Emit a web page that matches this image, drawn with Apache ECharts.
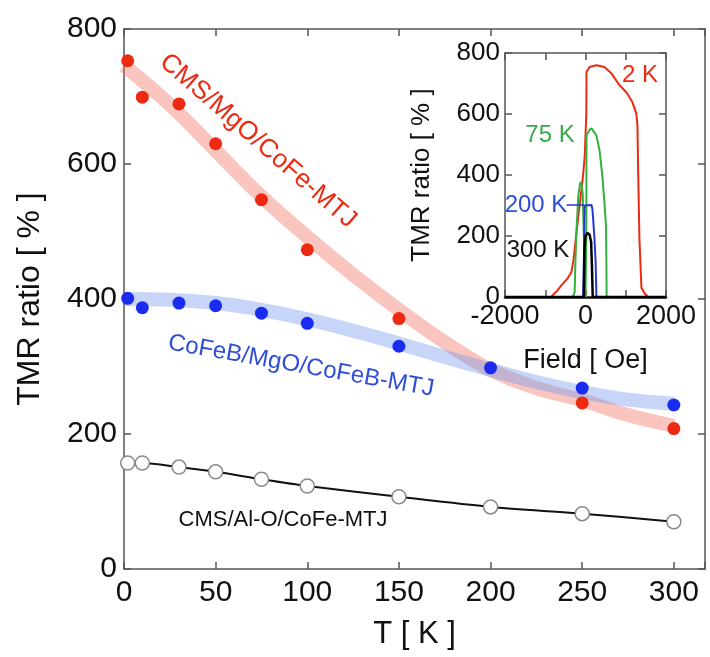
<!DOCTYPE html>
<html>
<head>
<meta charset="utf-8">
<script src="https://cdn.jsdelivr.net/npm/echarts@6/dist/echarts.min.js"></script>
<style>
  html, body { margin: 0; padding: 0; background: #fff; }
  #chart { width: 710px; height: 657px; }
</style>
</head>
<body>
<div id="chart"></div>
<script>
// Temperature dependence of the TMR ratio for three junction types
const tempAll = [2, 10, 30, 50, 75, 100, 150, 200, 250, 300];
const tempCmsMgo = [2, 10, 30, 50, 75, 100, 150, 250, 300];
const tmrCmsMgo = [753, 699, 689, 630, 547, 473, 371, 246, 208];
const tmrCofebMgo = [401, 387, 394, 390, 379, 364, 330, 298, 268, 243];
const tmrCmsAlo = [157, 157, 151, 144, 133, 123, 107, 92, 82, 70];

// Guide bands drawn behind the MgO data
const bandTemp = [0, 25, 50, 75, 100, 125, 150, 175, 200, 225, 250, 275, 300];
const bandCmsMgo = [746, 688, 620, 552, 492, 436, 384, 336, 295, 268, 250, 228, 212];
const bandCofebMgo = [400, 399, 394, 384, 370, 353, 334, 314, 295, 277, 262, 251, 245];

// Inset: TMR vs field loops at several temperatures
const field2K = [-2000, -850, -800, -720, -600, -450, -350, -300, -200, -120, -60, -20, 20, 25, 100, 270, 470, 640, 840, 1010, 1160, 1260, 1290, 1310, 1340, 1390, 1460, 1550, 2000];
const tmr2K = [0, 0, 8, 18, 38, 60, 82, 120, 240, 330, 400, 460, 600, 738, 754, 760, 754, 734, 695, 672, 640, 603, 564, 400, 190, 30, 13, 0, 0];
const field75K = [-2000, -320, -270, -250, -220, -180, -130, -100, -70, -40, -20, 0, 20, 25, 100, 150, 270, 350, 420, 470, 510, 520, 525, 2000];
const tmr75K = [0, 0, 15, 120, 230, 330, 377, 370, 340, 200, 60, 0, 200, 530, 548, 553, 530, 480, 395, 310, 230, 100, 0, 0];
const field200K = [-2000, -60, -40, -30, -20, 25, 150, 175, 220, 250, 265, 270, 2000];
const tmr200K = [0, 0, 120, 250, 300, 302, 302, 285, 197, 120, 40, 0, 0];
const field300K = [-2000, -40, -25, 0, 50, 100, 140, 160, 180, 2000];
const tmr300K = [0, 0, 160, 200, 210, 205, 180, 100, 0, 0];
const leader200KField = [-470, -30];
const leader200KTmr = [302, 302];

const zip = (xs, ys) => xs.map((x, i) => [x, ys[i]]);

const FONT = '"Liberation Sans", Arial, Helvetica, sans-serif';
const RED = '#ec2a12';
const BLUE = '#1a2cf0';
const GREEN = '#34b041';
const FRAME = '#555';

function frameAxis(extra) {
  return Object.assign({
    type: 'value',
    axisLine: { show: true, onZero: false, lineStyle: { color: FRAME, width: 1.5 } },
    axisTick: { show: true, inside: true, length: 7, lineStyle: { color: FRAME, width: 1.5 } },
    splitLine: { show: false },
    axisLabel: { show: false }
  }, extra);
}

const chart = echarts.init(document.getElementById('chart'), null, { renderer: 'canvas' });

chart.setOption({
  backgroundColor: '#fff',
  animation: false,
  grid: [
    { left: 124, right: 5, top: 29, bottom: 88 },
    { left: 505, right: 44, top: 53, bottom: 360, show: true, backgroundColor: '#fff', borderWidth: 0 }
  ],
  xAxis: [
    frameAxis({
      gridIndex: 0, min: 0, max: 317, interval: 50, position: 'bottom',
      axisLabel: { show: true, color: '#111', fontSize: 30, fontFamily: FONT, margin: 9,
        formatter: v => (v % 50 === 0 ? String(v) : '') },
      name: 'T [ K ]', nameLocation: 'middle', nameGap: 50,
      nameTextStyle: { color: '#111', fontSize: 31, fontFamily: FONT }
    }),
    frameAxis({ gridIndex: 0, min: 0, max: 317, interval: 50, position: 'top' }),
    frameAxis({
      gridIndex: 1, min: -2000, max: 2000, interval: 1000, position: 'bottom',
      axisLine: { show: true, onZero: false, lineStyle: { color: '#111', width: 2.5 } },
      axisLabel: { show: true, color: '#111', fontSize: 27, fontFamily: FONT, margin: 6,
        formatter: v => (v % 2000 === 0 ? String(v) : '') },
      name: 'Field [ Oe]', nameLocation: 'middle', nameGap: 50,
      nameTextStyle: { color: '#111', fontSize: 27, fontFamily: FONT }
    }),
    frameAxis({ gridIndex: 1, min: -2000, max: 2000, interval: 1000, position: 'top' })
  ],
  yAxis: [
    frameAxis({
      gridIndex: 0, min: 0, max: 800, interval: 200, position: 'left',
      axisLabel: { show: true, color: '#111', fontSize: 30, fontFamily: FONT, margin: 7 },
      name: 'TMR ratio [ % ]', nameLocation: 'middle', nameGap: 78, nameRotate: 90,
      nameTextStyle: { color: '#111', fontSize: 32, fontFamily: FONT }
    }),
    frameAxis({ gridIndex: 0, min: 0, max: 800, interval: 200, position: 'right' }),
    frameAxis({
      gridIndex: 1, min: 0, max: 800, interval: 200, position: 'left',
      axisLabel: { show: true, color: '#111', fontSize: 26, fontFamily: FONT, margin: 5 },
      name: 'TMR ratio [ % ]', nameLocation: 'middle', nameGap: 70, nameRotate: 90,
      nameTextStyle: { color: '#111', fontSize: 26, fontFamily: FONT }
    }),
    frameAxis({ gridIndex: 1, min: 0, max: 800, interval: 200, position: 'right' })
  ],
  series: [
    {
      name: 'band CMS/MgO', type: 'line', xAxisIndex: 0, yAxisIndex: 0,
      data: zip(bandTemp, bandCmsMgo), smooth: 0.4, showSymbol: false, z: 1,
      lineStyle: { color: 'rgba(240, 110, 92, 0.4)', width: 14, cap: 'butt' }
    },
    {
      name: 'band CoFeB/MgO', type: 'line', xAxisIndex: 0, yAxisIndex: 0,
      data: zip(bandTemp, bandCofebMgo), smooth: 0.4, showSymbol: false, z: 2,
      lineStyle: { color: 'rgba(120, 155, 238, 0.42)', width: 14, cap: 'butt' }
    },
    {
      name: 'CMS/Al-O/CoFe-MTJ', type: 'line', xAxisIndex: 0, yAxisIndex: 0,
      data: zip(tempAll, tmrCmsAlo), smooth: 0.3, z: 3,
      lineStyle: { color: '#111', width: 2 },
      symbol: 'circle', symbolSize: 14,
      itemStyle: { color: '#fff', borderColor: '#8a8a8a', borderWidth: 1.5, opacity: 1 }
    },
    {
      name: 'CoFeB/MgO/CoFeB-MTJ', type: 'scatter', xAxisIndex: 0, yAxisIndex: 0,
      data: zip(tempAll, tmrCofebMgo), symbolSize: 13, z: 4,
      itemStyle: { color: BLUE, opacity: 1 }
    },
    {
      name: 'CMS/MgO/CoFe-MTJ', type: 'scatter', xAxisIndex: 0, yAxisIndex: 0,
      data: zip(tempCmsMgo, tmrCmsMgo), symbolSize: 13, z: 4,
      itemStyle: { color: RED, opacity: 1 }
    },
    {
      name: '2 K', type: 'line', xAxisIndex: 2, yAxisIndex: 2,
      data: zip(field2K, tmr2K), showSymbol: false, z: 5,
      lineStyle: { color: RED, width: 2 }
    },
    {
      name: '75 K', type: 'line', xAxisIndex: 2, yAxisIndex: 2,
      data: zip(field75K, tmr75K), showSymbol: false, z: 6,
      lineStyle: { color: GREEN, width: 2 }
    },
    {
      name: '200 K', type: 'line', xAxisIndex: 2, yAxisIndex: 2,
      data: zip(field200K, tmr200K), showSymbol: false, z: 7,
      lineStyle: { color: '#2a35d8', width: 2 }
    },
    {
      name: '200 K leader', type: 'line', xAxisIndex: 2, yAxisIndex: 2,
      data: zip(leader200KField, leader200KTmr), showSymbol: false, z: 7,
      lineStyle: { color: '#2a35d8', width: 1.5 }
    },
    {
      name: '300 K', type: 'line', xAxisIndex: 2, yAxisIndex: 2,
      data: zip(field300K, tmr300K), showSymbol: false, z: 8,
      lineStyle: { color: '#000', width: 2.5 }
    }
  ],
  graphic: [
    { type: 'text', x: 258, y: 141, rotation: -41 * Math.PI / 180, z: 20,
      style: { text: 'CMS/MgO/CoFe-MTJ', fill: RED, fontSize: 26, fontFamily: FONT, align: 'center', verticalAlign: 'middle' } },
    { type: 'text', x: 301, y: 366, rotation: -10 * Math.PI / 180, z: 20,
      style: { text: 'CoFeB/MgO/CoFeB-MTJ', fill: '#2f4fd6', fontSize: 24, fontFamily: FONT, align: 'center', verticalAlign: 'middle' } },
    { type: 'text', x: 283, y: 520, z: 20,
      style: { text: 'CMS/Al-O/CoFe-MTJ', fill: '#111', fontSize: 22, fontFamily: FONT, align: 'center', verticalAlign: 'middle' } },
    { type: 'text', x: 640, y: 75, z: 20,
      style: { text: '2 K', fill: RED, fontSize: 24, fontFamily: FONT, align: 'center', verticalAlign: 'middle' } },
    { type: 'text', x: 550, y: 135, z: 20,
      style: { text: '75 K', fill: '#3aaa4a', fontSize: 24, fontFamily: FONT, align: 'center', verticalAlign: 'middle' } },
    { type: 'text', x: 536, y: 205, z: 20,
      style: { text: '200 K', fill: '#2f4fd6', fontSize: 24, fontFamily: FONT, align: 'center', verticalAlign: 'middle' } },
    { type: 'text', x: 538, y: 250, z: 20,
      style: { text: '300 K', fill: '#111', fontSize: 24, fontFamily: FONT, align: 'center', verticalAlign: 'middle' } }
  ]
});
</script>
</body>
</html>
